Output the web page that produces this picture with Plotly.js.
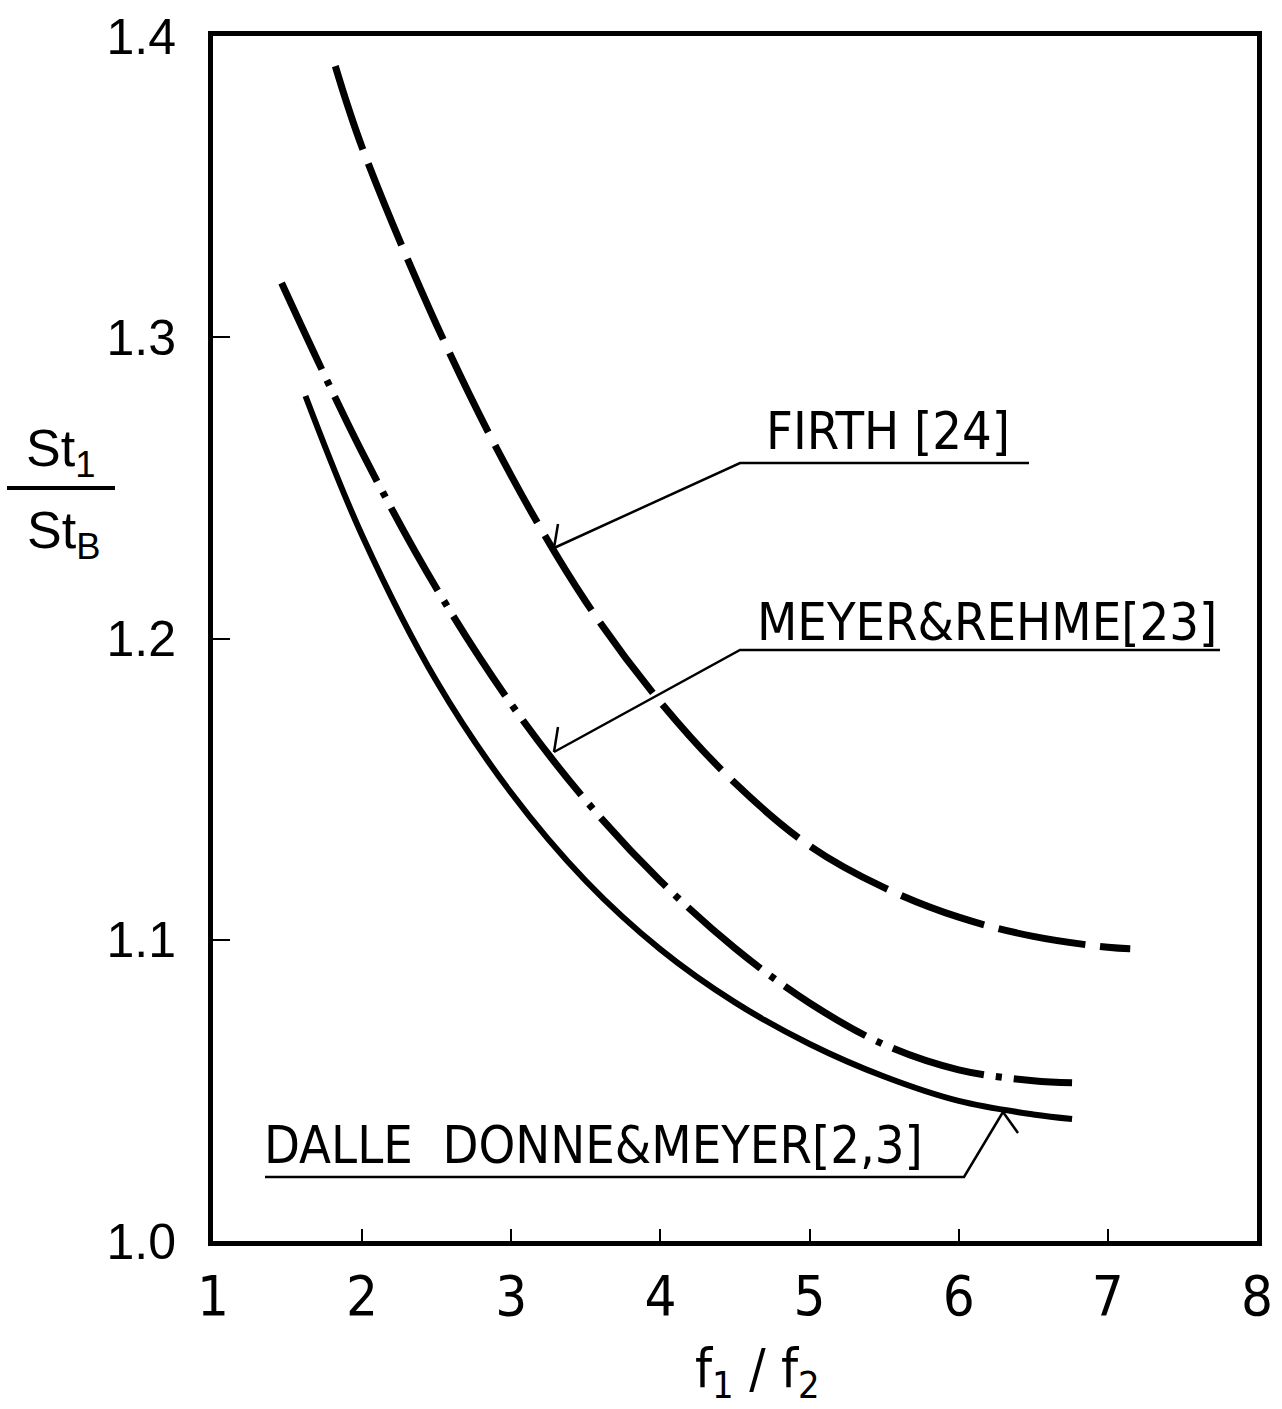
<!DOCTYPE html>
<html><head><meta charset="utf-8">
<script src="https://cdn.plot.ly/plotly-3.0.1.min.js"></script>
<style>html,body{margin:0;padding:0;background:#fff}</style>
</head><body>
<div id="chart" style="width:1282px;height:1409px"></div>
<script>
// ---- data ----
const firthX = [1.82, 2.0, 2.5, 3.0, 3.5, 4.0, 4.5, 5.0, 5.5, 6.0, 6.5, 7.0, 7.15];
const firthY = [1.390, 1.363, 1.304, 1.254, 1.2122, 1.1789, 1.152, 1.1312, 1.1173, 1.1075, 1.1011, 1.0975, 1.097];

const meyerX = [1.46, 2.0, 2.5, 3.0, 3.5, 4.0, 4.5, 5.0, 5.5, 6.0, 6.5, 6.76];
const meyerY = [1.318, 1.2618, 1.2165, 1.1782, 1.1462, 1.1195, 1.0972, 1.0790, 1.0652, 1.0568, 1.0532, 1.0525];

const dalleX = [1.62, 2.0, 2.5, 3.0, 3.5, 4.0, 4.5, 5.0, 5.5, 6.0, 6.5, 6.76];
const dalleY = [1.2805, 1.2342, 1.1857, 1.1487, 1.1195, 1.0968, 1.0792, 1.0654, 1.0546, 1.0465, 1.0420, 1.0405];

const seriesNames = ['FIRTH [24]', 'MEYER&amp;REHME[23]', 'DALLE&#160;&#160;DONNE&amp;MEYER[2,3]'];

const xTickVals = [1, 2, 3, 4, 5, 6, 7, 8];
const xTickText = ['1', '2', '3', '4', '5', '6', '7', '8'];
const yTickVals = [1.0, 1.1, 1.2, 1.3, 1.4];
const yTickText = ['1.0', '1.1', '1.2', '1.3', '1.4'];

// ---- geometry helpers (page pixels -> axis / paper units) for annotation placement ----
const L = 213, R = 1257, T = 36, B = 1241;
const X0 = 1, X1 = 8, Y0 = 1.0, Y1 = 1.4;
const px2x = p => X0 + (p - L) / (R - L) * (X1 - X0);
const py2y = p => Y1 - (p - T) / (B - T) * (Y1 - Y0);
const px2p = p => (p - L) / (R - L);
const py2p = p => (B - p) / (B - T);

const narrow = '"Liberation Sans Narrow", "DejaVu Sans Condensed", "Roboto Condensed", "Arial Narrow", sans-serif';
const wide = '"Liberation Sans", Arial, sans-serif';

const traces = [
  {x: firthX, y: firthY, name: seriesNames[0], mode: 'lines',
   line: {color: '#000', width: 7, dash: '88px,15px', shape: 'spline', smoothing: 1}},
  {x: meyerX, y: meyerY, name: seriesNames[1], mode: 'lines',
   line: {color: '#000', width: 7, dash: '95px,12px,6px,12px', shape: 'spline', smoothing: 1}},
  {x: dalleX, y: dalleY, name: seriesNames[2], mode: 'lines',
   line: {color: '#000', width: 6, shape: 'spline', smoothing: 1}}
];

function seg(pts) {
  return 'M' + pts.map(p => px2x(p[0]) + ',' + py2y(p[1])).join(' L');
}
const thin = {color: '#000', width: 2.5};
const shapes = [
  // Firth leader, underline and arrow whisker
  {type: 'path', xref: 'x', yref: 'y', path: seg([[1029, 463], [740, 463], [554, 548]]), line: thin},
  {type: 'path', xref: 'x', yref: 'y', path: seg([[554, 548], [558, 524]]), line: thin},
  // Meyer & Rehme
  {type: 'path', xref: 'x', yref: 'y', path: seg([[1220, 650], [740, 650], [554, 752]]), line: thin},
  {type: 'path', xref: 'x', yref: 'y', path: seg([[554, 752], [558, 727]]), line: thin},
  // Dalle Donne & Meyer
  {type: 'path', xref: 'x', yref: 'y', path: seg([[265, 1177], [964, 1177], [1003, 1112]]), line: thin},
  {type: 'path', xref: 'x', yref: 'y', path: seg([[1003, 1112], [1018, 1133]]), line: thin},
  // y-title fraction bar (outside plot area -> paper coords)
  {type: 'line', xref: 'paper', yref: 'paper', x0: px2p(7), x1: px2p(115), y0: py2p(488), y1: py2p(488),
   line: {color: '#000', width: 4}}
];

const labelFont = {family: narrow, size: 52, color: '#000'};
const annotations = [
  {text: seriesNames[0], x: px2x(764), y: py2y(431), xref: 'x', yref: 'y', xanchor: 'left', yanchor: 'middle', showarrow: false, font: labelFont},
  {text: seriesNames[1], x: px2x(755), y: py2y(622), xref: 'x', yref: 'y', xanchor: 'left', yanchor: 'middle', showarrow: false, font: labelFont},
  {text: seriesNames[2], x: px2x(262), y: py2y(1145), xref: 'x', yref: 'y', xanchor: 'left', yanchor: 'middle', showarrow: false, font: labelFont},
  // y-axis title as a fraction
  {text: 'St<sub>1</sub>', x: px2p(60), y: py2p(452), xref: 'paper', yref: 'paper', xanchor: 'center', yanchor: 'middle', showarrow: false,
   font: {family: wide, size: 52, color: '#000'}},
  {text: 'St<sub>B</sub>', x: px2p(63), y: py2p(534), xref: 'paper', yref: 'paper', xanchor: 'center', yanchor: 'middle', showarrow: false,
   font: {family: wide, size: 52, color: '#000'}},
  // x-axis title
  {text: 'f<sub>1</sub> / f<sub>2</sub>', x: px2p(757), y: py2p(1372), xref: 'paper', yref: 'paper', xanchor: 'center', yanchor: 'middle', showarrow: false,
   font: {family: narrow, size: 54, color: '#000'}}
];

const layout = {
  width: 1282, height: 1409, autosize: false,
  margin: {l: L, r: 1282 - R, t: T, b: 1409 - B, pad: 0},
  paper_bgcolor: '#fff', plot_bgcolor: '#fff',
  showlegend: false,
  xaxis: {range: [X0, X1], tickvals: xTickVals, ticktext: xTickText, ticks: 'inside', ticklen: 12, tickwidth: 2, tickcolor: '#000',
          showline: true, linewidth: 5, linecolor: '#000', mirror: true, showgrid: false, zeroline: false,
          tickfont: {family: narrow, size: 56, color: '#000'}, ticklabelstandoff: 2, fixedrange: true},
  yaxis: {range: [Y0, Y1], tickvals: yTickVals, ticktext: yTickText, ticks: 'inside', ticklen: 17, tickwidth: 2, tickcolor: '#000',
          showline: true, linewidth: 5, linecolor: '#000', mirror: true, showgrid: false, zeroline: false,
          tickfont: {family: wide, size: 50, color: '#000'}, ticklabelstandoff: 22, fixedrange: true},
  shapes: shapes,
  annotations: annotations
};

Plotly.newPlot('chart', traces, layout, {displayModeBar: false, staticPlot: true});
</script>
</body></html>
